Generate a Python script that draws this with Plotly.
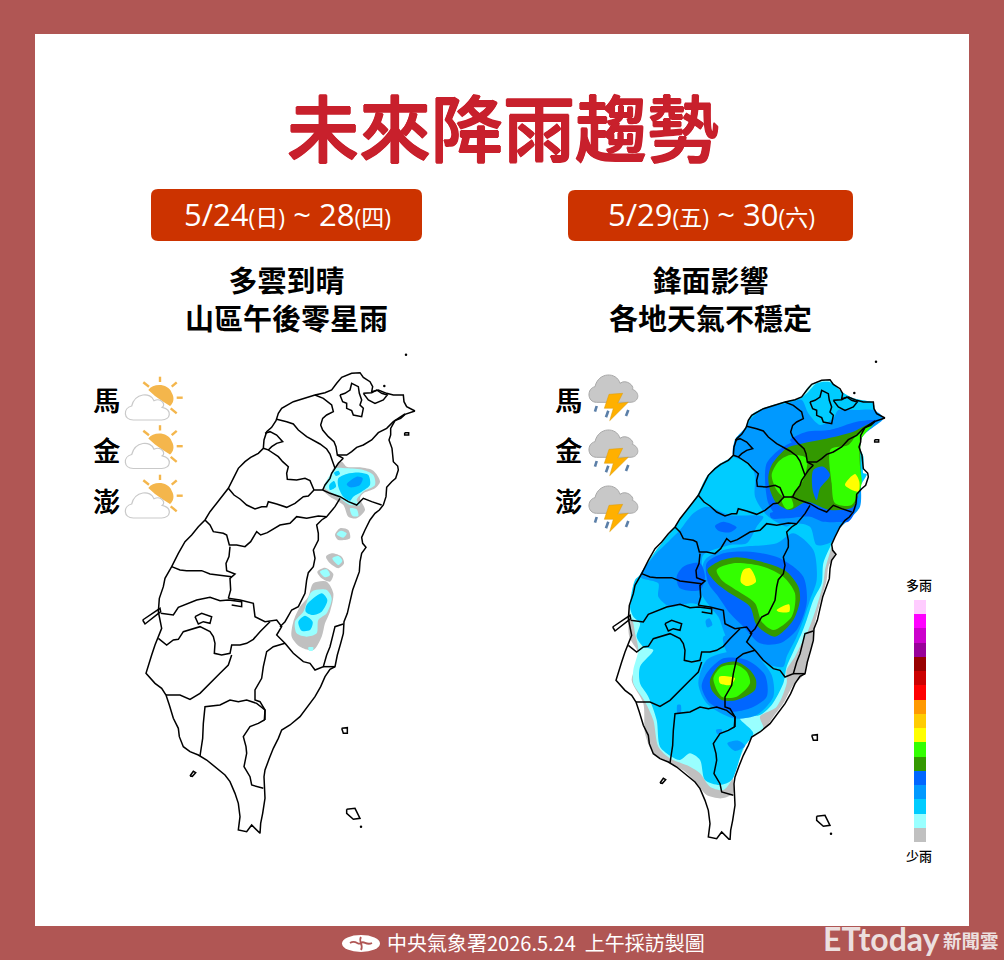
import plotly.graph_objects as go

FONT = "Noto Sans CJK TC"
BG = "#b05654"
TITLE = "未來降雨趨勢"
PERIODS = [("5/24", "(日)", " ~ ", "28", "(四)"), ("5/29", "(五)", " ~ ", "30", "(六)")]
HEADINGS = [["多雲到晴", "山區午後零星雨"], ["鋒面影響", "各地天氣不穩定"]]
ISLANDS = ["馬", "金", "澎"]
FOOTER = "中央氣象署2026.5.24  上午採訪製圖"

LEVEL_COLORS = ["#c0c0c0", "#99ffff", "#00ccff", "#0099ff", "#0066ff", "#339900", "#33ff00", "#ffff00",
                "#ffcc00", "#ff9900", "#ff0000", "#cc0000", "#990000", "#990099", "#cc00cc", "#ff00ff", "#ffccff"]
LEVEL_UNITS = [1] * 17
GRAY, PALE, CYAN, B1, B2, DG, GR, YE = LEVEL_COLORS[:8]

# Map outlines, in units of map-pixels x 3
COAST = [(855,183),(838,188),(825,193),(812,205),(795,212),(782,235),(782,255),(777,270),(786,295),(788,315),(790,335),(803,348),(805,360),(797,385),(785,395),(770,412),(768,440),(760,465),(748,480),(735,490),(720,510),(705,540),(695,562),(698,580),(708,592),(695,610),(690,635),(688,665),(676,695),(668,720),(660,755),(652,790),(642,815),(640,850),(632,880),(622,915),(615,950),(600,958),(585,980),(572,1010),(555,1040),(540,1060),(525,1080),(510,1100),(480,1125),(455,1140),(445,1165),(430,1195),(418,1225),(405,1260),(402,1280),(405,1320),(405,1345),(398,1390),(392,1420),(390,1450),(375,1435),(365,1425),(350,1445),(325,1440),(330,1400),(325,1360),(315,1330),(300,1295),(285,1275),(255,1250),(230,1230),(205,1215),(180,1205),(160,1190),(148,1160),(145,1135),(130,1105),(118,1065),(108,1035),(95,1015),(75,1000),(48,970),(55,945),(65,915),(75,885),(85,860),(95,835),(90,810),(85,785),(88,745),(100,710),(105,685),(125,650),(145,610),(165,575),(185,555),(205,530),(225,510),(240,485),(260,460),(295,415),(310,385),(325,355),(345,335),(362,322),(385,310),(400,295),(402,270),(410,245),(425,232),(438,212),(445,190),(455,175),(490,155),(520,145),(555,135),(585,128),(605,120),(620,100),(635,82),(665,70),(690,68),(700,82),(720,95),(728,110),(725,125),(745,120),(770,130),(790,135),(820,135),(822,155),(830,170),(855,183)]
BORDERS = [
 [(630,135),(645,130),(660,120),(665,100),(685,110),(688,130),(695,150),(690,165),(700,175),(695,200),(670,195),(665,182),(650,175),(650,160),(638,155),(630,135)],
 [(700,130),(725,128),(740,120),(755,130),(772,135),(760,150),(735,160),(715,150),(700,130)],
 [(555,135),(580,145),(605,165),(610,185),(590,195),(578,205),(572,225),(578,240),(595,260),(612,275),(618,290),(622,315),(650,315),(665,305),(680,292),(700,285),(725,270),(745,248),(770,235),(790,215),(825,192)],
 [(640,325),(622,315)],[(640,325),(625,340),(615,355),(605,370),(600,385),(585,405),(578,420)],
 [(440,208),(470,215),(490,222),(505,240),(530,260),(552,272),(570,282),(590,297),(600,312),(608,335),(615,355)],
 [(405,250),(420,245),(440,255),(458,275),(440,280),(425,290),(415,300),(400,295)],
 [(415,300),(430,310),(445,320),(458,335),(475,350),(470,370),(472,388),(500,390),(525,385),(540,392),(552,420)],
 [(295,415),(312,435),(330,447),(350,465),(375,477),(395,470),(410,470),(415,455),(440,462),(470,472),(495,460),(520,440),(535,438),(552,420),(578,420),(600,430),(630,440),(655,455),(680,465),(700,445),(725,455),(755,465)],
 [(225,510),(240,525),(250,545),(280,550),(290,555),(298,585),(320,585),(345,590),(362,575),(380,545),(392,555),(412,548),(450,525),(480,520),(500,500),(530,505),(565,498),(590,500)],
 [(630,445),(615,470),(590,500),(575,510),(560,525),(565,550),(565,570),(550,600),(555,625),(550,650),(535,668),(530,690),(525,730),(505,770),(485,780),(465,815),(450,830)],
 [(125,650),(150,660),(170,662),(215,662),(240,672),(260,675),(305,680)],
 [(300,590),(297,620),(288,640),(290,662),(315,672),(300,685),(302,720),(295,745)],
 [(92,790),(130,795),(145,772),(170,762),(200,750),(240,742),(270,752),(295,750),(335,755),(335,770),(305,765)],
 [(295,745),(330,750),(370,760),(375,800),(405,815),(440,810),(455,830),(440,855),(465,880)],
 [(195,800),(215,790),(245,800),(240,820),(220,815),(205,822),(195,800)],
 [(85,865),(110,885),(130,870),(145,868),(160,845),(210,830),(240,845),(250,860),(255,880),(253,910),(275,915),(300,910),(305,885),(330,885),(350,880),(370,868),(390,845),(420,815)],
 [(305,915),(295,945),(270,970),(250,990),(210,1030),(180,1048),(150,1035),(108,1035)],
 [(465,880),(430,890),(410,905),(400,950),(395,985),(375,1020),(375,1050),(390,1055),(405,1080),(405,1110)],
 [(465,880),(490,910),(520,935),(540,940),(555,960),(580,950),(590,915),(600,890),(610,850),(615,830),(640,822)],[(580,950),(615,950)],
 [(210,1218),(218,1165),(220,1120),(225,1070),(270,1065),(300,1050),(325,1055),(350,1050),(380,1060),(405,1080),(403,1110),(385,1120),(360,1130),
  (340,1160),(348,1190),(350,1210),(342,1250),(360,1280),(365,1305),(400,1315)],
 [(38,810),(60,795),(90,775),(92,785),(65,805),(45,822),(38,810)],
 [(180,1278),(190,1264),(197,1268),(187,1279),(180,1278)],
 [(635,1135),(652,1133),(652,1150),(640,1150),(635,1135)],
 [(650,1378),(675,1375),(690,1405),(670,1408),(650,1390),(650,1378)],
 [(824,248),(836,248),(836,255),(824,255),(824,248)],
]
DOTS_X = [693, 828, 763]
DOTS_Y = [1430, 14, 108]

# Rain areas, 24-28 May panel
LEFT_RAIN = [
 (GRAY,[(635,335),(650,350),(690,352),(730,362),(750,395),(735,415),(700,430),(690,445),(705,480),(680,505),(655,500),(640,465),(600,440),(580,420),(600,385),(610,355)]),
 (GRAY,[(615,555),(630,535),(655,540),(660,565),(625,570)]),
 (GRAY,[(588,620),(605,610),(635,620),(642,640),(625,655),(600,640)]),
 (GRAY,[(562,665),(585,653),(610,672),(600,695),(575,685)]),
 (GRAY,[(550,700),(590,695),(610,730),(600,785),(585,820),(575,860),(550,900),(510,890),(485,860),(490,815),(510,770),(535,740)]),
 (PALE,[(615,355),(650,355),(700,360),(730,375),(735,405),(700,425),(680,450),(690,465),(660,465),(630,445),(600,425),(582,410),(600,375)]),
 (PALE,[(660,475),(680,478),(685,498),(668,498)]),
 (PALE,[(620,553),(632,542),(650,550),(640,563)]),
 (PALE,[(607,625),(625,618),(637,632),(625,645)]),
 (PALE,[(570,665),(590,658),(600,675),(585,682)]),
 (PALE,[(545,725),(590,720),(605,745),(590,790),(565,810),(560,850),(530,860),(500,850),(495,815),(520,785)]),
 (PALE,[(535,892),(550,892),(548,902),(537,902)]),
 (CYAN,[(625,385),(650,372),(690,368),(715,375),(720,405),(695,425),(670,440),(660,452),(640,440),(625,410)]),
 (CYAN,[(598,405),(612,393),(618,410),(600,420)]),
 (CYAN,[(612,368),(625,362),(630,372),(618,378)]),
 (CYAN,[(530,765),(575,730),(592,750),(575,785),(548,795),(527,785)]),
 (CYAN,[(505,815),(525,797),(548,815),(540,840),(515,842)]),
 (B1,[(650,403),(680,380),(698,385),(690,405),(660,412)]),
]

# Rain areas, 29-30 May panel
RIGHT_RAIN = [
 (GRAY,[(680,95),(720,92),(755,125),(790,145),(850,160),(855,190),(880,205),(850,215),(810,250),(808,290),(820,320),(820,370),(830,372),(810,410),(790,480),(770,510),(740,540),(720,585),(735,610),(715,650),(710,690),(690,760),(675,820),(665,890),(650,940),(640,975),(610,1005),(580,1060),(550,1100),(525,1135),(480,1165),(460,1200),(430,1280),(430,1330),(395,1345),(350,1335),(320,1300),(285,1265),(240,1240),(190,1210),(165,1150),(160,1060),(125,990),(150,920),(118,860),(118,780),(140,700),(150,675),(195,605),(255,530),(290,480),(320,440),(350,380),(385,345),(430,315),(435,270),(465,235),(485,195),(520,175),(585,155),(630,145),(655,110)]),
 (PALE,[(680,95),(720,92),(755,125),(790,145),(850,160),(855,190),(880,205),(850,215),(810,250),(808,290),(820,320),(820,370),(830,372),(810,410),(790,480),(770,510),(740,540),(725,590),(705,660),(700,700),(680,770),(655,840),(635,880),(615,920),(590,960),(590,1000),(560,1070),(510,1100),(520,1135),(480,1165),(460,1200),(425,1290),(400,1320),(360,1310),(330,1270),(300,1250),(240,1225),(205,1190),(190,1110),(165,1055),(130,1000),(130,960),(145,900),(135,850),(130,820),(120,790),(140,700),(150,675),(195,605),(255,530),(290,480),(320,440),(350,380),(385,345),(430,315),(435,270),(465,235),(485,195),(520,175),(585,155),(630,145),(655,110)]),
 (CYAN,[(680,100),(720,97),(755,125),(790,145),(850,160),(855,190),(880,205),(850,215),(810,250),(808,290),(820,320),(820,370),(830,372),(810,410),(790,480),(770,510),(740,540),(725,580),(700,640),(695,700),(670,750),(650,810),(635,850),(610,905),(590,950),(580,1000),(545,1065),(510,1095),(450,1105),(490,1150),(460,1195),(425,1290),(390,1305),(345,1290),(330,1230),(300,1210),(270,1230),(245,1220),(210,1190),(200,1110),(175,1040),(150,1000),(150,950),(190,900),(160,890),(140,860),(150,820),(130,800),(120,770),(135,690),(150,675),(195,605),(255,530),(290,480),(320,440),(350,380),(385,345),(430,315),(435,270),(465,235),(485,195),(520,175),(585,155),(630,145),(655,125)]),
 (B1,[(485,205),(520,178),(590,160),(635,150),(655,190),(690,225),(730,205),(745,180),(800,180),(850,180),(880,205),(815,265),(810,470),(780,505),(745,540),(725,575),(680,585),(660,530),(610,520),(590,530),(530,495),(495,440),(495,380),(480,340),(430,318),(435,270),(465,235)]),
 (B1,[(270,540),(310,490),(350,470),(420,495),(520,500),(500,530),(470,580),(420,585),(340,615),(335,650),(330,760),(300,760),(240,770),(205,740),(205,700),(150,680),(190,620),(240,570)]),
 (B1,[(345,630),(400,600),(460,590),(560,580),(610,550),(670,600),(680,690),(660,750),(640,810),(620,860),(590,920),(580,950),(540,945),(500,920),(470,890),(415,870),(385,800),(360,770),(330,720)]),
 (B1,[(350,930),(420,905),(500,920),(545,975),(550,1040),(500,1095),(430,1105),(350,1060),(325,1000)]),
 (B1,[(400,860),(480,860),(500,930),(420,920)]),
 (B1,[(347,812),(358,805),(367,825),(352,832)]),
 (B1,[(412,1180),(445,1172),(465,1188),(435,1203)]),
 (B1,[(262,1065),(272,1065),(272,1090),(263,1092)]),
 (B1,[(378,1140),(395,1138),(395,1150),(382,1152)]),
 (B2,[(525,385),(530,340),(560,305),(600,280),(720,240),(860,212),(820,240),(800,470),(775,515),(700,505),(620,490),(560,495),(535,460)]),
 (B2,[(600,270),(650,245),(720,240),(800,215),(870,210),(820,230),(750,265),(650,285),(620,285)]),
 (B2,[(540,490),(650,480),(780,480),(770,510),(700,515),(660,500),(590,505),(545,505)]),
 (B2,[(350,640),(400,610),(480,605),(570,625),(640,680),(650,760),(620,840),(570,880),(510,880),(460,830),(420,790),(385,740),(355,700)]),
 (B2,[(260,680),(280,650),(330,640),(345,680),(330,720),(270,715)]),
 (B2,[(375,528),(400,515),(440,532),(420,547),(385,542)]),
 (B2,[(350,970),(400,925),(470,930),(525,975),(530,1040),(480,1075),(420,1085),(360,1060),(335,1010)]),
 (DG,[(535,380),(545,345),(590,295),(640,280),(700,268),(790,245),(848,218),(815,265),(810,400),(790,470),(720,480),(650,455),(600,480),(560,460),(540,420)]),
 (DG,[(352,660),(385,635),(440,622),(530,640),(590,665),(625,710),(630,750),(610,810),(555,860),(500,825),(480,770),(420,730),(380,700)]),
 (DG,[(360,990),(390,945),(440,935),(480,960),(498,990),(495,1020),(440,1050),(395,1050),(365,1020)]),
 (B2,[(670,360),(700,350),(720,375),(690,415),(680,450),(668,420)]),
 (GR,[(545,375),(565,335),(600,315),(650,325),(640,390),(600,440),(580,440),(560,420)]),
 (GR,[(575,450),(600,440),(610,470),(590,478)]),
 (GR,[(722,298),(775,285),(805,248),(848,224),(812,270),(810,350),(815,400),(785,465),(735,460),(725,400)]),
 (GR,[(380,660),(430,640),(520,650),(580,680),(615,730),(605,800),(550,840),(515,815),(495,760),(430,715),(395,690)]),
 (GR,[(370,985),(395,950),(440,945),(470,965),(480,1000),(440,1040),(395,1040)]),
 (YE,[(765,405),(795,372),(808,395),(805,425)]),
 (YE,[(460,660),(480,655),(498,695),(470,708),(452,695)]),
 (YE,[(560,780),(597,763),(598,785),(565,785)]),
 (YE,[(388,980),(435,985),(420,1005),(390,1000)]),
]
RIGHT_OFFSET = (30, 21)

fig = go.Figure()
fig.add_trace(go.Scatter(x=[0, 1004], y=[0, 960], mode="markers", marker=dict(opacity=0), hoverinfo="skip", showlegend=False))


def unzip(pts, dx=0, dy=0):
    return [p[0] + dx for p in pts], [p[1] + dy for p in pts]


def draw_map(rain, ax, ay, dx=0, dy=0):
    for color, poly in rain:
        xs, ys = unzip(poly + poly[:1])
        fig.add_trace(go.Scatter(x=xs, y=ys, xaxis=ax, yaxis=ay, mode="lines", fill="toself", fillcolor=color,
                                 line=dict(width=0, color=color, shape="spline", smoothing=0.8), hoverinfo="skip", showlegend=False))
    for line in [COAST] + BORDERS:
        xs, ys = unzip(line, dx, dy)
        fig.add_trace(go.Scatter(x=xs, y=ys, xaxis=ax, yaxis=ay, mode="lines", line=dict(color="#000", width=1.5),
                                 hoverinfo="skip", showlegend=False))
    xs, ys = [v + dx for v in DOTS_X], [v + dy for v in DOTS_Y]
    fig.add_trace(go.Scatter(x=xs, y=ys, xaxis=ax, yaxis=ay, mode="markers", marker=dict(color="#000", size=2.5),
                             hoverinfo="skip", showlegend=False))


draw_map(LEFT_RAIN, "x2", "y2")
draw_map(RIGHT_RAIN, "x3", "y3", RIGHT_OFFSET[0], RIGHT_OFFSET[1])

for v, c in zip(LEVEL_UNITS, LEVEL_COLORS):
    fig.add_trace(go.Bar(x=[0], y=[v], width=1, marker=dict(color=c, line=dict(width=0)), xaxis="x4", yaxis="y4",
                         hoverinfo="skip", showlegend=False))


def pill(x0, y0, x1, y1, r=7):
    return (f"M{x0+r},{y0} L{x1-r},{y0} Q{x1},{y0} {x1},{y0+r} L{x1},{y1-r} Q{x1},{y1} {x1-r},{y1} "
            f"L{x0+r},{y1} Q{x0},{y1} {x0},{y1-r} L{x0},{y0+r} Q{x0},{y0} {x0+r},{y0} Z")


shapes = []
def S(**k):
    shapes.append(dict(xref="x", yref="y", **k))

S(type="rect", x0=35, y0=34, x1=969, y1=926, fillcolor="#fff", line_width=0, layer="below")
S(type="path", path=pill(151, 189, 422, 241), fillcolor="#cc3300", line_width=0, layer="below")
S(type="path", path=pill(568, 190, 853, 241), fillcolor="#cc3300", line_width=0, layer="below")


def P(x0, y0, cmds):
    out = []
    for c in cmds:
        if isinstance(c, str):
            out.append(c)
        else:
            out.append(f"{x0 + c[0]/3:.1f},{y0 + c[1]/3:.1f}")
    return " ".join(out).replace("M ", "M").replace("L ", "L").replace("C ", "C")


def sun_cloud(dy):
    x0, y0 = 80, 370 + dy
    S(type="path", layer="above", fillcolor="#f4b64c", line_width=0,
      path=P(x0, y0, ["M", (205,60), "C", (220,38), (265,40), (275,68), "C", (285,85), (280,100), (270,108), "L", (245,92), "L", (225,78), "Z"]))
    for a, b in [((240,20),(240,36)), ((275,50),(290,37)), ((290,83),(308,83)), ((272,115),(290,130)), ((190,37),(207,50))]:
        S(type="path", layer="above", line=dict(color="#f4b64c", width=2.4), path=P(x0, y0, ["M", a, "L", b]))
    S(type="path", layer="above", fillcolor="#fff", line=dict(color="#c9c9c9", width=1.2),
      path=P(x0, y0, ["M", (160,150), "C", (130,150), (128,115), (155,108), "C", (165,68), (212,65), (222,92),
                      "C", (245,82), (258,105), (247,112), "C", (278,120), (272,150), (245,150), "Z"]))


def storm(dy):
    x0, y0 = 545, 370 + dy
    S(type="path", layer="above", fillcolor="#c8c8c8", line=dict(color="#a8a8a8", width=1),
      path=P(x0, y0, ["M", (155,97), "C", (125,97), (125,55), (150,50), "C", (160,5), (215,5), (225,40),
                      "C", (245,25), (270,50), (262,58), "C", (285,65), (285,97), (255,97), "Z"]))
    for a, b in [((155,108),(150,125)), ((190,122),(183,142)), ((250,120),(243,138))]:
        S(type="path", layer="above", line=dict(color="#5b7fa8", width=2.6), path=P(x0, y0, ["M", a, "L", b]))
    S(type="path", layer="above", fillcolor="#ffb000", line=dict(color="#d99a10", width=0.5),
      path=P(x0, y0, ["M", (192,73), "L", (233,70), "L", (218,100), "L", (250,97), "L", (194,152), "L", (205,115), "L", (178,115), "Z"]))


for d in (0, 48.5, 98):
    sun_cloud(d)
for d in (0, 55, 111):
    storm(d)

# CWA logo
S(type="circle", x0=342, y0=935, x1=380, y1=952, fillcolor="#fff", line_width=0, layer="above")
S(type="path", layer="above", line=dict(color=BG, width=1.8),
  path="M350,943 C356,939 358,946 361,943 C364,940 366,946 372,943")
S(type="path", layer="above", line=dict(color=BG, width=1.8), path="M361,937 C358,941 364,945 361,950")

ann = []
def T(x, y, text, size, color="#000", anchor="center", family=FONT, weight=None, shadow=None):
    f = dict(family=family, size=size, color=color)
    if weight:
        f["weight"] = weight
    if shadow:
        f["shadow"] = shadow
    ann.append(dict(xref="x", yref="y", x=x, y=y, text=text, showarrow=False, xanchor=anchor, yanchor="middle", font=f))


T(503, 124, TITLE, 72, "#c8202c", weight=500,
  shadow="0.8px 0 0 #c8202c, -0.8px 0 0 #c8202c, 0 0.8px 0 #c8202c, 0 -0.8px 0 #c8202c")
for (cx, cy), (a, b, c, d, e) in zip([(287, 214), (711, 214)], PERIODS):
    sm = 'style="font-size:23px"'
    T(cx, cy, f"{a}<span {sm}>{b}</span>{c}{d}<span {sm}>{e}</span>", 31, "#fff", family="Open Sans, " + FONT)
for cx, lines in zip([286, 710], HEADINGS):
    T(cx, 297.5, f"<b>{lines[0]}<br>{lines[1]}</b>", 29)
for cx in (106, 568):
    for y, t in zip((399, 449, 500), ISLANDS):
        T(cx, y, t, 27, weight=500, shadow="0.4px 0 0 #000")
T(919, 584, "多雨", 13, weight=500)
T(919, 855, "少雨", 13, weight=500)
T(385, 942, FOOTER, 20, "#fff", "left")
T(821, 938, "<b>ETtoday</b>", 32, "#ecdfdf", "left", "Lato")
T(941, 940, "<b>新聞雲</b>", 18.5, "#ecdfdf", "left")


def hidden(**k):
    return dict(visible=False, fixedrange=True, showgrid=False, zeroline=False, **k)


fig.update_layout(
    width=1004, height=960, margin=dict(l=0, r=0, t=0, b=0), paper_bgcolor=BG, plot_bgcolor="rgba(0,0,0,0)",
    showlegend=False, barmode="stack", bargap=0, shapes=shapes, annotations=ann,
    xaxis=hidden(range=[0, 1004], domain=[0, 1]),
    yaxis=hidden(range=[960, 0], domain=[0, 1]),
    xaxis2=hidden(range=[0, 900], domain=[130/1004, 430/1004], anchor="y2"),
    yaxis2=hidden(range=[1470, 0], domain=[120/960, 610/960], anchor="x2"),
    xaxis3=hidden(range=[0, 900], domain=[590/1004, 890/1004], anchor="y3"),
    yaxis3=hidden(range=[1470, 0], domain=[120/960, 610/960], anchor="x3"),
    xaxis4=hidden(range=[-0.5, 0.5], domain=[914/1004, 926/1004], anchor="y4"),
    yaxis4=hidden(range=[0, 17], domain=[118/960, 360/960], anchor="x4"),
)
fig.write_html("out.html", config=dict(displayModeBar=False),
               post_script="document.body.style.margin='0';document.body.style.overflow='hidden';window.dispatchEvent(new Event('resize'));")
